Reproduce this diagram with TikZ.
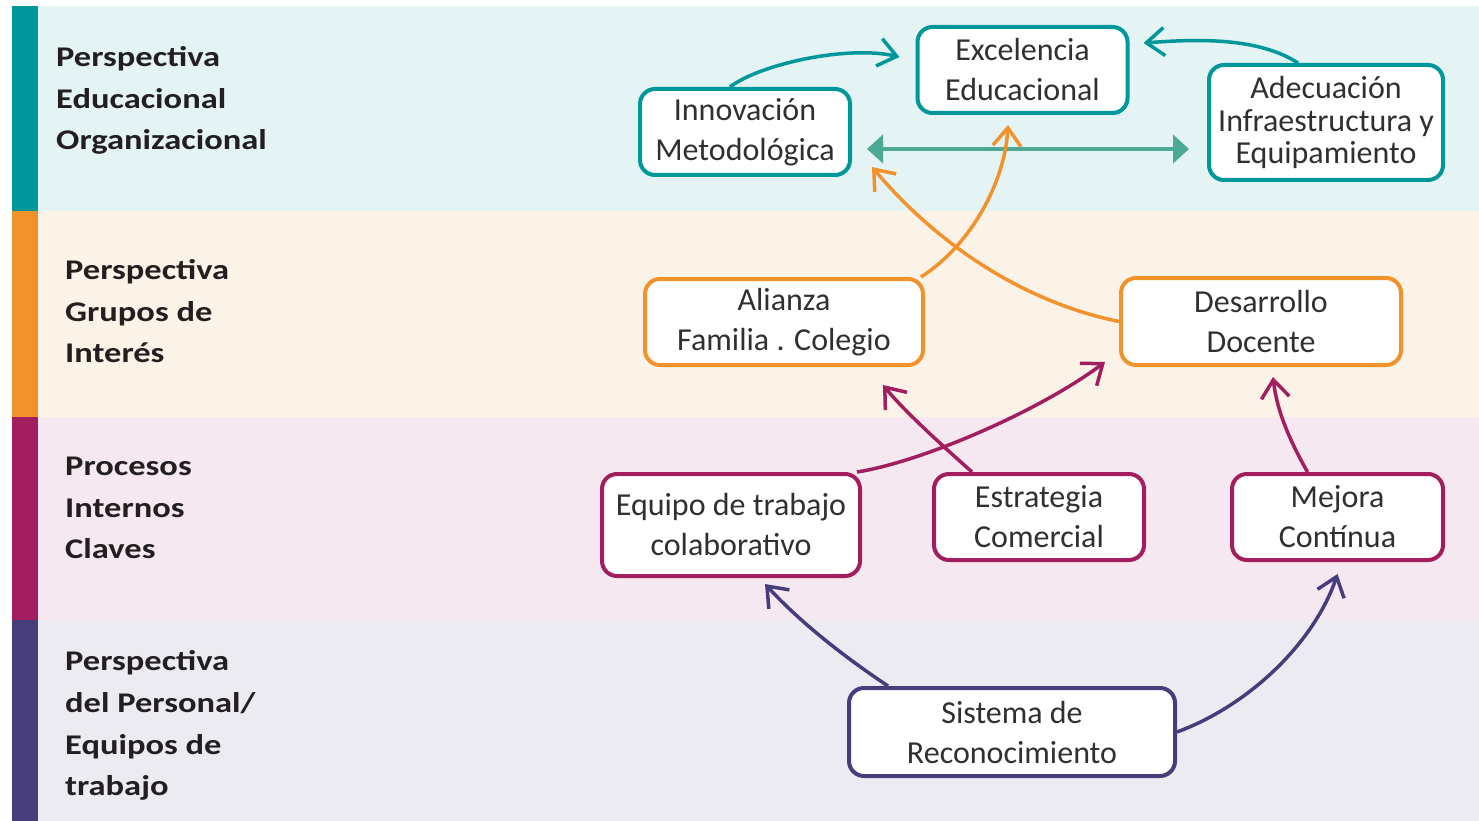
\documentclass[tikz,border=0pt]{standalone}
\usepackage{fontspec}
\setmainfont{Carlito}
\newfontfamily\labfont[FakeStretch=1.21]{Carlito}
\usetikzlibrary{arrows.meta,calc}
\definecolor{tealc}{HTML}{00979A}
\definecolor{orangec}{HTML}{F2922C}
\definecolor{maroonc}{HTML}{A21E5E}
\definecolor{purplec}{HTML}{483D7B}
\definecolor{greenc}{HTML}{4DA996}
\definecolor{bgA}{HTML}{E4F3F4}
\definecolor{bgB}{HTML}{FCF3E8}
\definecolor{bgC}{HTML}{F5E8F0}
\definecolor{bgD}{HTML}{ECEBF1}
\definecolor{txt}{HTML}{303030}
\definecolor{labtxt}{HTML}{231F20}
\tikzset{
  box/.style={draw, line width=4pt, rounded corners=15pt, fill=white, align=center,
    inner sep=0pt, text=txt, font=\fontsize{32}{40}\selectfont},
  lab/.style={anchor=base west, inner sep=0pt, text=labtxt,
    font=\labfont\bfseries\fontsize{28.5}{34}\selectfont},
  conn/.style={line width=3.5pt, -{Straight Barb[length=18pt,width=28pt]}},
  dbl/.style={line width=4.5pt, greenc,
    {Triangle[length=16pt,width=28pt]}-{Triangle[length=16pt,width=28pt]}}
}
\begin{document}
\begin{tikzpicture}[x=1pt,y=1pt]
\useasboundingbox (0,0) rectangle (1479,-821);
% bands
\fill[bgA] (12,-6) rectangle (1479,-211);
\fill[bgB] (12,-211) rectangle (1479,-417);
\fill[bgC] (12,-417) rectangle (1479,-620);
\fill[bgD] (12,-620) rectangle (1479,-821);
\fill[tealc] (12,-6) rectangle (38,-211);
\fill[orangec] (12,-211) rectangle (38,-417);
\fill[maroonc] (12,-417) rectangle (38,-620);
\fill[purplec] (12,-620) rectangle (38,-821);
% left labels
\node[lab] (l1a) at (56,-67) {Perspectiva};
\node[lab] (l1b) at (56,-108.5) {Educacional};
\node[lab] (l1c) at (56,-150) {Organizacional};
\node[lab] (l2a) at (65,-279) {Perspectiva};
\node[lab] (l2b) at (65,-321) {Grupos de};
\node[lab] (l2c) at (65,-362) {Interés};
\node[lab] (l3a) at (65,-475) {Procesos};
\node[lab] (l3b) at (65,-517) {Internos};
\node[lab] (l3c) at (65,-558) {Claves};
\node[lab] (l4a) at (65,-670) {Perspectiva};
\node[lab] (l4b) at (65,-712) {del Personal/};
\node[lab] (l4c) at (65,-754) {Equipos de};
\node[lab] (l4d) at (65,-795) {trabajo};
% boxes
\node[box, draw=tealc, minimum width=210pt, minimum height=86pt] (exc) at (1022.5,-70) {Excelencia\\Educacional};
\node[box, draw=tealc, minimum width=210pt, minimum height=86pt] (inn) at (745,-132) {Innovación\\Metodológica};
\node[box, draw=tealc, minimum width=234pt, minimum height=115pt, font=\fontsize{32}{32.5}\selectfont] (ade) at (1326,-122.5) {Adecuación\\Infraestructura y\\Equipamiento};
\node[box, draw=orangec, minimum width=278pt, minimum height=86pt] (ali) at (784,-322) {Alianza\\Familia . Colegio};
\node[box, draw=orangec, minimum width=280pt, minimum height=87pt] (des) at (1261,-321.5) {Desarrollo\\Docente};
\node[box, draw=maroonc, minimum width=258pt, minimum height=102pt] (equ) at (731,-525) {Equipo de trabajo\\colaborativo};
\node[box, draw=maroonc, minimum width=210pt, minimum height=86pt] (est) at (1039,-517) {Estrategia\\Comercial};
\node[box, draw=maroonc, minimum width=211pt, minimum height=86pt] (mej) at (1337.5,-517) {Mejora\\Contínua};
\node[box, draw=purplec, minimum width=326pt, minimum height=88pt] (sis) at (1012,-732) {Sistema de\\Reconocimiento};
% connectors
\draw[conn, tealc] ($(inn.north)+(-15,0)$) .. controls +(30,23) and +(-52,12) .. ($(exc.west)+(-16,13)$);
\draw[conn, tealc] ($(ade.north)+(-28,0)$) .. controls +(-43,28) and +(43,3) .. ($(exc.east)+(14,27)$);
\coordinate (dl) at ($(inn.east)+(15,-17)$);
\coordinate (dr) at ($(ade.west)+(-18,0)$);
\draw[dbl] (dl) -- (dl -| dr);
\draw[conn, orangec] ($(ali.north east)+(-4,0)$) .. controls +(50,32) and +(-3,-57) .. ($(exc.south)+(-14.5,-10)$);
\draw[conn, orangec] (des.west) .. controls +(-89,18) and +(70,-83) .. ($(inn.east)+(20,-35)$);
\draw[conn, maroonc] ($(equ.north east)+(-5,0)$) .. controls +(64,10) and +(-67,-50) .. ($(des.south west)+(-14,5)$);
\draw[conn, maroonc] ($(est.north)+(-67,0)$) .. controls +(-27,24) and +(22,-27) .. ($(ali.south)+(99,-18)$);
\draw[conn, maroonc] ($(mej.north)+(-30,0)$) .. controls +(-17,30) and +(4,-35) .. ($(des.south)+(12,-10)$);
\draw[conn, purplec] ($(sis.north west)+(41,0)$) .. controls +(-45,30) and +(35,-38) .. ($(equ.south)+(34,-6)$);
\draw[conn, purplec] (sis.east) .. controls +(73,27) and +(-23,-68) .. ($(mej.south)+(0,-12)$);
\end{tikzpicture}
\end{document}
